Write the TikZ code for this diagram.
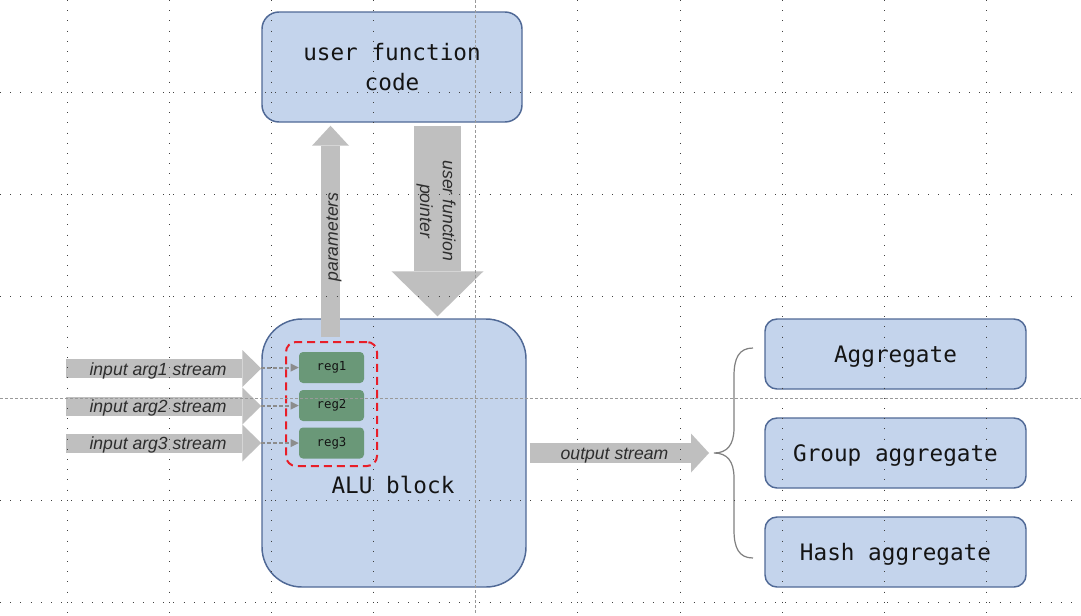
\documentclass[tikz,border=0pt]{standalone}
\usepackage{fontspec}
\newfontfamily\monof{DejaVu Sans Mono}
\newfontfamily\labf{Liberation Sans}
\usetikzlibrary{arrows.meta,calc}
\definecolor{boxfill}{RGB}{196,212,236}
\definecolor{boxline}{RGB}{80,105,150}
\definecolor{arrgray}{RGB}{191,191,191}
\definecolor{reggreen}{RGB}{106,152,120}
\definecolor{dashred}{RGB}{232,30,40}
\definecolor{conngray}{RGB}{140,140,140}
\definecolor{bracegray}{RGB}{128,128,128}
\definecolor{txt}{RGB}{20,20,20}
\definecolor{labtxt}{RGB}{45,45,45}
\begin{document}
\begin{tikzpicture}[x=0.75pt,y=-0.75pt,
  bluebox/.style={draw=boxline, line width=1.1pt, fill=boxfill, inner sep=0pt,
    font=\monof\fontsize{17}{22.5}\selectfont, text=txt, align=center},
  aggbox/.style={bluebox, rounded corners=9pt, minimum width=195.75pt, minimum height=52.5pt, text depth=0pt},
  monotext/.style={inner sep=0pt, font=\monof\fontsize{17}{22.5}\selectfont, text=txt},
  regbox/.style={fill=reggreen, rounded corners=3pt, minimum width=48.75pt,
    minimum height=23.25pt, inner sep=0pt, font=\monof\fontsize{9.3}{11}\selectfont, text=txt},
  regframe/.style={draw=dashred, line width=1.5pt, dash pattern=on 6pt off 3.75pt,
    rounded corners=7.5pt, minimum width=68.25pt, minimum height=93pt, inner sep=0pt},
  lab/.style={font=\labf\itshape\fontsize{13.2}{17}\selectfont, text=labtxt, inner sep=0pt, align=center},
  blockarrow/.style n args={3}{draw=arrgray, line width=#1,
    -{Triangle[width=#2, length=#3, line width=0pt, fill=arrgray]}},
  regconn/.style={draw=conngray, line width=1.5pt, dash pattern=on 3pt off 1.5pt,
    -{Triangle[width=6pt, length=6pt, line width=0pt, fill=conngray]}},
  bracestyle/.style={draw=bracegray, line width=0.9pt},
  griddot/.style={draw=black!75, line width=0.75pt, dash pattern=on 0.75pt off 6.9pt},
  griddash/.style={draw=black!40, line width=0.75pt, dash pattern=on 2.25pt off 1.5pt},
]
\fill[white] (0,0) rectangle (1081,615);
\useasboundingbox (0,0) rectangle (1081,615);

% boxes
\node[bluebox, rounded corners=12.75pt, minimum width=195pt, minimum height=82.5pt] (code) at (392,67) {user function\\code};
\node[bluebox, rounded corners=30pt, minimum width=198pt, minimum height=201pt] (alu) at (394,453) {};
\node[monotext] (alutext) at (393,485) {ALU block};
\node[regframe] (regs) at (331.5,404) {};
\node[regbox] (reg1) at (331.5,367.5) {reg1};
\node[regbox] (reg2) at (331.5,405.5) {reg2};
\node[regbox] (reg3) at (331.5,443) {reg3};

\node[aggbox] (agg) at (895.5,354) {Aggregate};
\node[aggbox] (gagg) at (895.5,453) {Group aggregate};
\node[aggbox] (hagg) at (895.5,552) {Hash aggregate};

% input arrows
\coordinate (i1) at (66,368.5);
\coordinate (i2) at (66,406);
\coordinate (i3) at (66,443);
\draw[blockarrow={14.25pt}{27.75pt}{14.25pt}] (i1) -- (i1 -| alu.west);
\draw[blockarrow={14.25pt}{27.75pt}{14.25pt}] (i2) -- (i2 -| alu.west);
\draw[blockarrow={14.25pt}{27.75pt}{14.25pt}] (i3) -- (i3 -| alu.west);
\node[lab] (l1) at (158,371) {input arg1 stream};
\node[lab] (l2) at (158,408) {input arg2 stream};
\node[lab] (l3) at (158,445) {input arg3 stream};

% dashed connectors to registers
\draw[regconn] (reg1.west -| alu.west) -- (reg1.west);
\draw[regconn] (reg2.west -| alu.west) -- (reg2.west);
\draw[regconn] (reg3.west -| alu.west) -- (reg3.west);

% parameters arrow
\coordinate (p0) at (330.5,337);
\draw[blockarrow={14.25pt}{27.75pt}{15pt}] (p0) -- ($(p0 |- code.south)+(0,3)$);
\node[lab, rotate=90] (lp) at (334,237) {parameters};

% user function pointer arrow
\coordinate (q0) at (437.5,126);
\draw[blockarrow={35.25pt}{69pt}{33.75pt}] (q0) -- ($(q0 |- alu.north)+(0,-2)$);
\node[lab, rotate=-90] (lq) at (436,211) {user function\\pointer};

% output arrow
\coordinate (bt) at (753,348);
\coordinate (bm) at (714,453);
\coordinate (bb) at (753,558);
\coordinate (o0) at ($(alu.east)+(3,0)$);
\draw[blockarrow={15pt}{29.25pt}{13.5pt}] (o0) -- ($(bm)+(-5,0)$);
\node[lab] (lo) at (614.5,456) {output stream};

% brace
\draw[bracestyle] (bt) .. controls (739,348) and (734,358) .. (734,376) -- (734,428)
  .. controls (734,445) and (727,453) .. (bm)
  .. controls (727,453) and (734,461) .. (734,478) -- (734,530)
  .. controls (734,548) and (739,558) .. (bb);

% grid
\foreach \gx in {67,169.2,271.4,373.6,577.8,680,782.2,884.4,986.6}
  \draw[griddot] (\gx,0) -- (\gx,615);
\draw[griddash] (475.6,0) -- (475.6,615);
\foreach \gy in {92.5,194.5,296.6,500.5,602.5}
  \draw[griddot] (0,\gy) -- (1081,\gy);
\draw[griddash] (0,398.7) -- (1081,398.7);
\end{tikzpicture}
\end{document}
